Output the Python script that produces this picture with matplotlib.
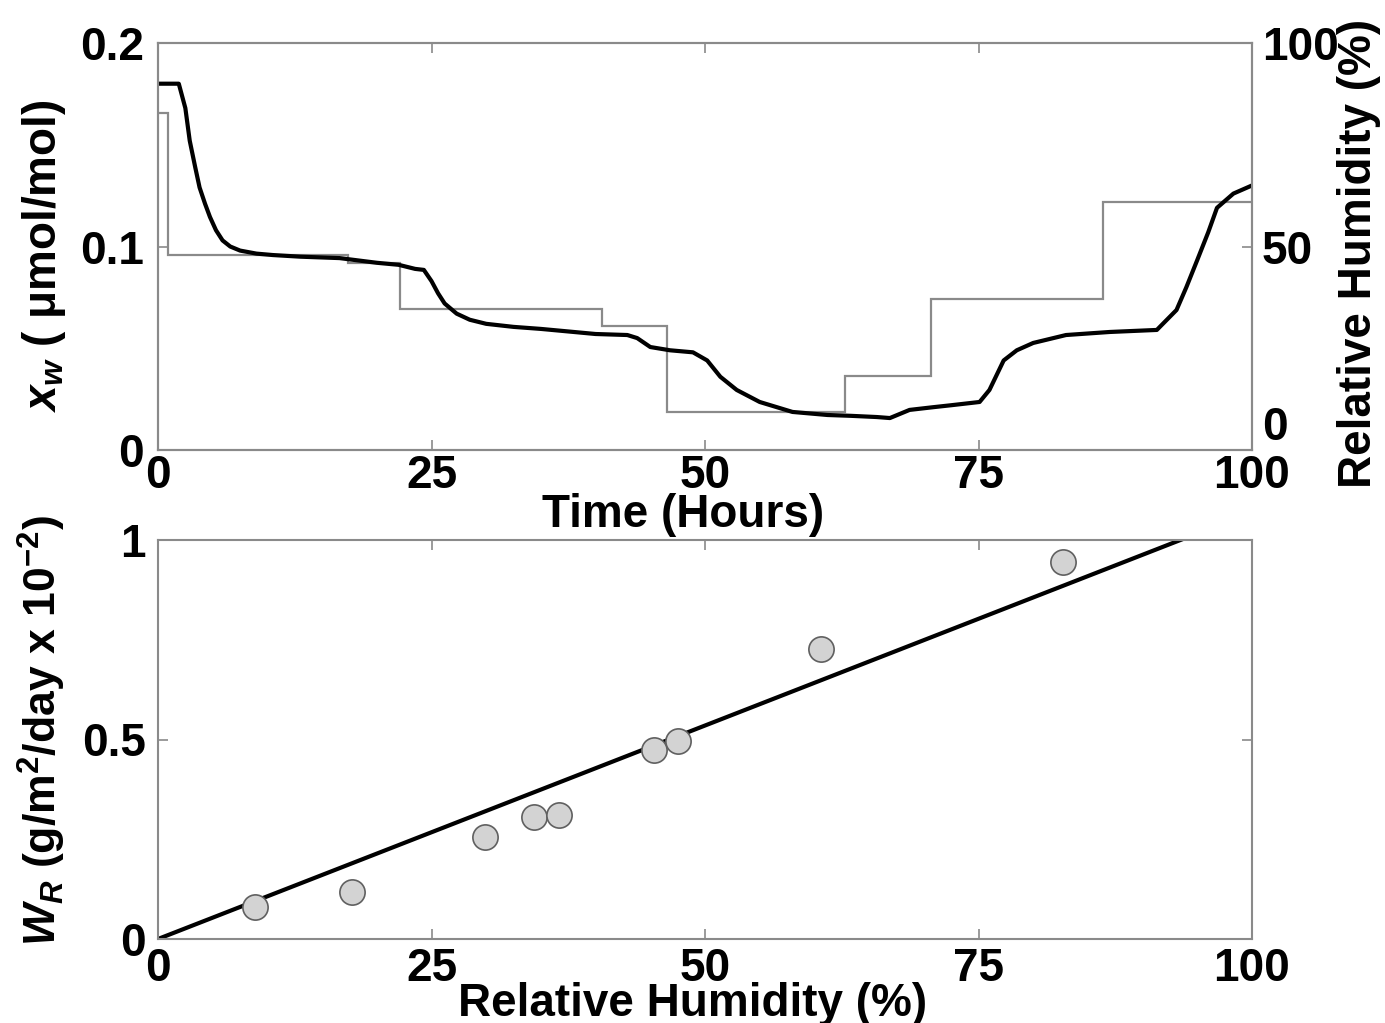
import numpy as np
import matplotlib
matplotlib.use("Agg")
from matplotlib import pyplot as plt

plt.rcParams['font.family'] = ['Liberation Sans', 'DejaVu Sans']
plt.rcParams['font.weight'] = 'bold'
plt.rcParams['mathtext.fontset'] = 'custom'
plt.rcParams['mathtext.it'] = 'Liberation Sans:italic:bold'
plt.rcParams['mathtext.rm'] = 'Liberation Sans:bold'
plt.rcParams['mathtext.bf'] = 'Liberation Sans:bold'

# water mole fraction vs time
time_h = [0, 1.9, 2.5, 2.9, 3.4, 3.8, 4.3, 4.75, 5.3, 5.9, 6.6, 7.5, 9, 10.5,
          13, 16.6, 20, 22, 23.5, 24.3, 25.0, 25.6, 26.2, 27.3, 28.5, 30,
          32.5, 35, 38, 40, 42.9, 43.8, 45, 46.8, 48.9, 50.2, 51.4, 52.9, 55,
          58, 61.2, 63.3, 65.7, 66.9, 68.7, 70.8, 72.5, 75.1, 76, 77.3, 78.5,
          80, 83, 87, 91.3, 93.1, 94, 95, 96, 96.8, 98.3, 100]
xw = [0.180, 0.180, 0.168, 0.152, 0.139, 0.129, 0.121, 0.1145, 0.108, 0.103,
      0.100, 0.098, 0.0965, 0.0958, 0.095, 0.0943, 0.092, 0.091, 0.089,
      0.0885, 0.083, 0.077, 0.072, 0.067, 0.064, 0.062, 0.0605, 0.0595,
      0.058, 0.057, 0.0565, 0.055, 0.0506, 0.049, 0.048, 0.044, 0.036,
      0.0295, 0.0236, 0.0187, 0.0172, 0.0168, 0.0162, 0.0157, 0.0197, 0.021,
      0.022, 0.0236, 0.0295, 0.044, 0.049, 0.0526, 0.0565, 0.058, 0.059,
      0.0688, 0.080, 0.0934, 0.107, 0.119, 0.126, 0.130]

# relative humidity set points (step edges in hours, level in %)
rh_edges = [0, 0.9, 17.4, 22.1, 40.6, 46.5, 62.8, 70.7, 86.4, 100]
rh_levels = [82.8, 47.9, 45.9, 34.6, 30.5, 9.3, 18.2, 37.1, 61.0]

# permeation rate vs relative humidity
rh_pts = [8.9, 17.7, 29.9, 34.4, 36.7, 45.3, 47.5, 60.6, 82.7]
wr_pts = [0.080, 0.118, 0.256, 0.306, 0.311, 0.474, 0.496, 0.727, 0.945]
fit_slope = 0.0107

fs = 33
gray = '#8a8a8a'

fig = plt.figure(figsize=(13.85, 10.23), dpi=100)
W, H = 1385, 1023
ax1 = fig.add_axes([158 / W, 1 - 450 / H, 1094 / W, 407 / H])
ax2 = fig.add_axes([158 / W, 1 - 939 / H, 1094 / W, 399 / H])


def style(ax):
    for sp in ax.spines.values():
        sp.set_color(gray)
        sp.set_linewidth(1.5)
    ax.tick_params(direction='in', length=7, width=1.2, color=gray,
                   labelsize=fs, top=True)


# top panel
ax1r = ax1.twinx()
ax1r.stairs(rh_levels, rh_edges, color=gray, lw=1.6, baseline=None)
ax1r.set_ylim(0, 100)
ax1r.set_yticks([0, 50, 100])
ax1r.set_yticklabels(['0', '50', '100'])
ax1r.get_yticklabels()[0].set_verticalalignment('bottom')
ax1.plot(time_h, xw, color='black', lw=3)
ax1.set_zorder(ax1r.get_zorder() + 1)
ax1.patch.set_visible(False)
ax1.set_xlim(0, 100)
ax1.set_ylim(0, 0.2)
ax1.set_xticks([0, 25, 50, 75, 100])
ax1.set_yticks([0, 0.1, 0.2])
ax1.set_yticklabels(['0', '0.1', '0.2'])
style(ax1)
style(ax1r)
ax1.tick_params(axis='x', pad=3)
ax1.tick_params(axis='y', pad=10)
ax1r.tick_params(axis='y', pad=7, right=True, left=False)
ax1.set_xlabel('Time (Hours)', fontsize=fs, fontweight='bold')
ax1.xaxis.set_label_coords(0.48, -0.106)
ax1.set_ylabel(r'$x_w$ ( μmol/mol)', fontsize=fs, fontweight='bold')
ax1.yaxis.set_label_coords(-0.082, 0.477)
ax1r.set_ylabel('Relative Humidity (%)', fontsize=fs, fontweight='bold',
                rotation=90)
ax1r.yaxis.set_label_coords(1.078, 0.484)

# bottom panel
xfit = np.array([0, 100])
ax2.plot(xfit, fit_slope * xfit, color='black', lw=3)
ax2.scatter(rh_pts, wr_pts, s=330, facecolor='#d3d3d3', edgecolor='#606060',
            linewidth=1.2, zorder=3)
ax2.set_xlim(0, 100)
ax2.set_ylim(0, 1)
ax2.set_xticks([0, 25, 50, 75, 100])
ax2.set_yticks([0, 0.5, 1])
ax2.set_yticklabels(['0', '0.5', '1'])
style(ax2)
ax2.tick_params(right=True)
ax2.tick_params(axis='x', pad=6)
ax2.tick_params(axis='y', pad=9)
ax2.set_xlabel('Relative Humidity (%)', fontsize=fs, fontweight='bold')
ax2.xaxis.set_label_coords(0.489, -0.108)
ax2.set_ylabel(r'$W_R$ (g/m$^2$/day x 10$^{-2}$)', fontsize=32,
               fontweight='bold')
ax2.yaxis.set_label_coords(-0.082, 0.521)

plt.savefig('out.png', dpi=100)
